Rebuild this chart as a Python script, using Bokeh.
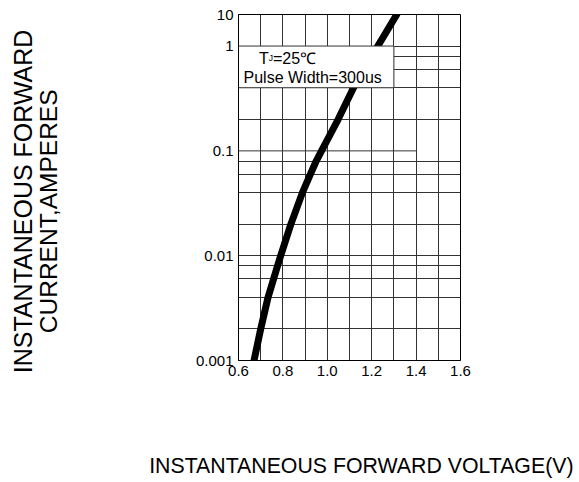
from bokeh.plotting import figure
from bokeh.models import FixedTicker, Range1d, LogAxis
from bokeh.core.properties import value
from bokeh.embed import file_html
from bokeh.resources import INLINE

# ---- data ----
voltage = [0.670, 0.700, 0.733, 0.758, 0.776, 0.790, 0.836, 0.888, 0.924, 0.950,
           0.974, 1.049, 1.118, 1.196, 1.313]
current = [0.001, 0.002, 0.004, 0.006, 0.008, 0.010, 0.020, 0.040, 0.060, 0.080,
           0.100, 0.200, 0.400, 0.774, 2.000]

x_ticks = [0.6, 0.8, 1.0, 1.2, 1.4, 1.6]
x_tick_labels = ["0.6", "0.8", "1.0", "1.2", "1.4", "1.6"]
x_grid = [0.7, 0.8, 0.9, 1.0, 1.1, 1.2, 1.3, 1.4, 1.5]
y_ticks = [0.001, 0.01, 0.1, 1.0, 2.0]
y_tick_labels = ["0.001", "0.01", "0.1", "1", "10"]
y_grid = [0.002, 0.004, 0.006, 0.008, 0.01, 0.02, 0.04, 0.06, 0.08,
          0.2, 0.4, 0.6, 0.8, 1.0]
short_line_y = 0.1
short_line_x = [0.6, 1.4]
box = dict(left=0.6, right=1.3, bottom=0.4, top=1.0)
note_line2 = "Pulse Width=300us"
x_title = "INSTANTANEOUS FORWARD VOLTAGE(V)"
y_title = ["INSTANTANEOUS FORWARD", "CURRENT,AMPERES"]

FONT = "Liberation Sans"
GRID = "#333333"
NB = "\u00a0"

p = figure(frame_width=222, frame_height=346, output_backend="svg",
           toolbar_location=None, y_axis_type="log",
           x_range=Range1d(0.6, 1.6), y_range=Range1d(0.001, 2.0),
           min_border_left=238, min_border_right=119,
           min_border_top=14, min_border_bottom=122)
p.background_fill_color = "white"
p.border_fill_color = "white"
p.outline_line_color = "black"
p.outline_line_width = 1

# axes
p.xaxis.ticker = FixedTicker(ticks=x_ticks)
p.xaxis.major_label_overrides = {t: l for t, l in zip(x_ticks, x_tick_labels)}
p.yaxis.ticker = FixedTicker(ticks=y_ticks)
p.yaxis.major_label_overrides = {t: l for t, l in zip(y_ticks, y_tick_labels)}
for ax in (p.xaxis[0], p.yaxis[0]):
    ax.major_tick_out = 0
    ax.major_tick_in = 0
    ax.minor_tick_out = 0
    ax.minor_tick_in = 0
    ax.axis_line_color = "black"
    ax.major_label_text_font = FONT
    ax.major_label_text_font_size = "15px"
    ax.major_label_text_color = "black"
    ax.axis_label_text_font = FONT
    ax.axis_label_text_font_style = "normal"
    ax.axis_label_text_color = "black"
p.xaxis.major_label_standoff = 5
p.yaxis.major_label_standoff = 5

p.xaxis.axis_label = NB * 4 + x_title
p.xaxis.axis_label_text_font_size = "21.3px"
p.xaxis.axis_label_standoff = 75

# y title: second line on the main axis, first line on an outer, empty axis
p.yaxis.axis_label = y_title[1] + NB * 7
p.yaxis.axis_label_text_font_size = "24.5px"
p.yaxis.axis_label_standoff = 131

outer = LogAxis(ticker=FixedTicker(ticks=[]), axis_label=y_title[0] + NB * 4,
                axis_line_color=None, major_tick_out=0, major_tick_in=0,
                minor_tick_out=0, minor_tick_in=0, major_label_text_font_size="0px",
                axis_label_text_font=FONT, axis_label_text_font_size="25px",
                axis_label_text_font_style="normal", axis_label_text_color="black",
                axis_label_standoff=-5)
p.add_layout(outer, "left")

# grid
p.xgrid.ticker = FixedTicker(ticks=x_grid)
p.ygrid.ticker = FixedTicker(ticks=y_grid)
for g in (p.xgrid[0], p.ygrid[0]):
    g.grid_line_color = GRID
    g.grid_line_width = 1
    g.grid_line_alpha = 1.0

p.segment(x0=[short_line_x[0]], x1=[short_line_x[1]], y0=[short_line_y], y1=[short_line_y],
          line_color=GRID, line_width=1)

# curve
p.line(voltage, current, line_color="black", line_width=7, line_cap="round", line_join="round")

# annotation box
p.quad(left=[box["left"]], right=[box["right"]], bottom=[box["bottom"]], top=[box["top"]],
       fill_color="white", line_color=GRID, line_width=1)

ax0, ay0 = box["left"], box["top"]
p.text(x=[ax0], y=[ay0], text=["T"], x_offset=20.5, y_offset=12, text_font=value(FONT),
       text_font_size="16px", text_baseline="alphabetic", text_align="left", text_color="black")
p.text(x=[ax0], y=[ay0], text=["J"], x_offset=30.3, y_offset=12, text_font=value(FONT),
       text_font_size="8.5px", text_baseline="alphabetic", text_align="left", text_color="black")
p.text(x=[ax0], y=[ay0], text=["=25\u2103"], x_offset=34.5, y_offset=12, text_font=value(FONT),
       text_font_size="16px", text_baseline="alphabetic", text_align="left", text_color="black")
p.text(x=[ax0], y=[ay0], text=[note_line2], x_offset=5, y_offset=31, text_font=value(FONT),
       text_font_size="16px", text_baseline="alphabetic", text_align="left", text_color="black")

open("out.html", "w").write(file_html(p, INLINE))
